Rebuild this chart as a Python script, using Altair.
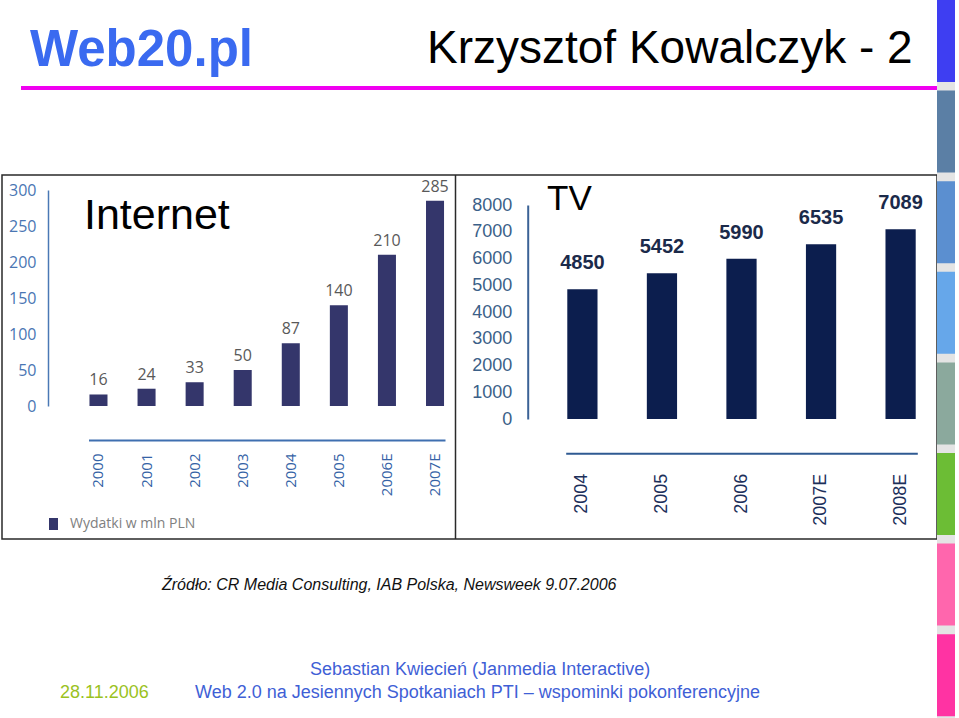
import altair as alt
import pandas as pd

# ---------------- data ----------------
int_years = ["2000", "2001", "2002", "2003", "2004", "2005", "2006E", "2007E"]
int_values = [16, 24, 33, 50, 87, 140, 210, 285]
int_ticks = [0, 50, 100, 150, 200, 250, 300]

tv_years = ["2004", "2005", "2006", "2007E", "2008E"]
tv_values = [4850, 5452, 5990, 6535, 7089]
tv_ticks = [0, 1000, 2000, 3000, 4000, 5000, 6000, 7000, 8000]

strip_colors = ["#3e3ef2", "#5b7fa5", "#5b8fd0", "#66a7ea",
                "#8ba99d", "#6cbd35", "#ff66ad", "#ff33a3"]

int_df = pd.DataFrame({"rok": int_years, "wydatki": int_values})
tv_df = pd.DataFrame({"rok": tv_years, "wydatki": tv_values})

INT_BAR = "#34366b"
TV_BAR = "#0c1e4e"


def rect(x, x2, y, y2, **kw):
    return alt.Chart().mark_rect(**kw).encode(
        x=alt.value(x), x2=alt.value(x2), y=alt.value(y), y2=alt.value(y2))


def label(txt, x, y, **kw):
    return alt.Chart().mark_text(align="left", **kw).encode(
        x=alt.value(x), y=alt.value(y), text=alt.value(txt))


deco = []
# frame of the two pictures
deco.append(rect(2, 937, 175, 539, fill="white", stroke="#2a2a2a", strokeWidth=1.5))
deco.append(alt.Chart().mark_rule(color="#2a2a2a", strokeWidth=1.5).encode(
    x=alt.value(455.5), y=alt.value(175), y2=alt.value(539)))
# right colour strip
deco.append(rect(937, 955, 0, 718, fill="#e4e4e4"))
for i, c in enumerate(strip_colors):
    top = i * 90.6
    deco.append(rect(937, 955, top, top + 82, fill=c))
# pink header line
deco.append(rect(21, 937, 86, 90, fill="#f000f0"))

# texts
deco.append(label("Web20.pl", 30, 66, font="Liberation Sans", fontSize=51,
                  fontWeight="bold", color="#3a6af0", baseline="alphabetic"))
deco.append(label("Krzysztof Kowalczyk - 2", 427, 63, font="Liberation Sans",
                  fontSize=46, color="#000000", baseline="alphabetic"))
deco.append(label("Internet", 84, 229, font="Liberation Sans", fontSize=43,
                  color="#000000", baseline="alphabetic"))
deco.append(label("TV", 547, 210, font="Liberation Sans", fontSize=35,
                  color="#000000", baseline="alphabetic"))
deco.append(rect(49, 58, 518, 530, fill=INT_BAR))
deco.append(label("Wydatki w mln PLN", 70, 524, font="Open Sans", fontSize=14,
                  color="#808080", baseline="middle"))
deco.append(label("Źródło: CR Media Consulting, IAB Polska, Newsweek 9.07.2006",
                  162, 590, font="Liberation Sans", fontSize=16, fontStyle="italic",
                  color="#111111", baseline="alphabetic"))
deco.append(label("Sebastian Kwiecień (Janmedia Interactive)", 310, 675,
                  font="Liberation Sans", fontSize=18, color="#3f5fd6",
                  baseline="alphabetic"))
deco.append(label("28.11.2006", 60, 698, font="Liberation Sans", fontSize=18,
                  color="#9ac21e", baseline="alphabetic"))
deco.append(label("Web 2.0 na Jesiennych Spotkaniach PTI – wspominki pokonferencyjne",
                  195, 698, font="Liberation Sans", fontSize=18, color="#3f5fd6",
                  baseline="alphabetic"))

# ---------------- Internet chart ----------------
x_int = alt.X("rok:N", sort=int_years,
              scale=alt.Scale(range=[88.5, 445], paddingInner=0.625, paddingOuter=0.02),
              axis=alt.Axis(orient="bottom", offset=-278, title=None, labelAngle=-90,
                            labelPadding=13, labelFont="Open Sans", labelFontSize=15,
                            labelColor="#3563a6", domainColor="#3f6fb0", domainWidth=2,
                            ticks=False, tickSize=0, grid=False, zindex=2))
y_int = alt.Y("wydatki:Q",
              scale=alt.Scale(domain=[0, 300], range=[406, 190], nice=False),
              axis=alt.Axis(orient="left", offset=-48, values=int_ticks, title=None,
                            format="d", labelFont="Open Sans", labelFontSize=16,
                            labelColor="#4a76b3", domainColor="#4a78b5", domainWidth=1.5,
                            ticks=False, tickSize=0, grid=False, labelPadding=12,
                            labelFlush=False, zindex=2))

int_bars = alt.Chart(int_df).mark_bar(color=INT_BAR).encode(x=x_int, y=y_int)
int_text = alt.Chart(int_df).mark_text(dy=-6, baseline="bottom", font="Open Sans",
                                       fontSize=16, color="#595959").encode(
    x=x_int, y=y_int, text=alt.Text("wydatki:Q", format="d"))
internet = alt.layer(int_bars, int_text)

# ---------------- TV chart ----------------
x_tv = alt.X("rok:N", sort=tv_years,
             scale=alt.Scale(range=[565.7, 917.3], paddingInner=0.62, paddingOuter=0.02),
             axis=alt.Axis(orient="bottom", offset=-264.7, title=None, labelAngle=-90,
                           labelPadding=20, labelFont="Liberation Sans", labelFontSize=18,
                           labelColor="#1c2f5a", domainColor="#2f5a92", domainWidth=2,
                           ticks=False, tickSize=0, grid=False, zindex=2))
y_tv = alt.Y("wydatki:Q",
             scale=alt.Scale(domain=[0, 8000], range=[419, 205], nice=False),
             axis=alt.Axis(orient="left", offset=-527.7, values=tv_ticks, title=None,
                           format="d", labelFont="Liberation Sans", labelFontSize=18,
                           labelColor="#3b5f88", domainColor="#3b6296", domainWidth=2,
                           ticks=False, tickSize=0, grid=False, labelPadding=16,
                           labelFlush=False, zindex=2))

tv_bars = alt.Chart(tv_df).mark_bar(color=TV_BAR).encode(x=x_tv, y=y_tv)
tv_text = alt.Chart(tv_df).mark_text(dy=-16, baseline="bottom", font="Liberation Sans",
                                     fontSize=20, fontWeight="bold", color="#1b2a4a").encode(
    x=x_tv, y=y_tv, text=alt.Text("wydatki:Q", format="d"))
tv = alt.layer(tv_bars, tv_text)

chart = alt.layer(*deco, internet, tv).resolve_scale(
    x="independent", y="independent"
).resolve_axis(
    x="independent", y="independent"
).properties(
    width=959, height=718, padding=0,
    autosize=alt.AutoSizeParams(type="none"),
    background="white",
).configure_view(stroke=None)

chart.save("out.html", embed_options={"renderer": "svg", "actions": False})
